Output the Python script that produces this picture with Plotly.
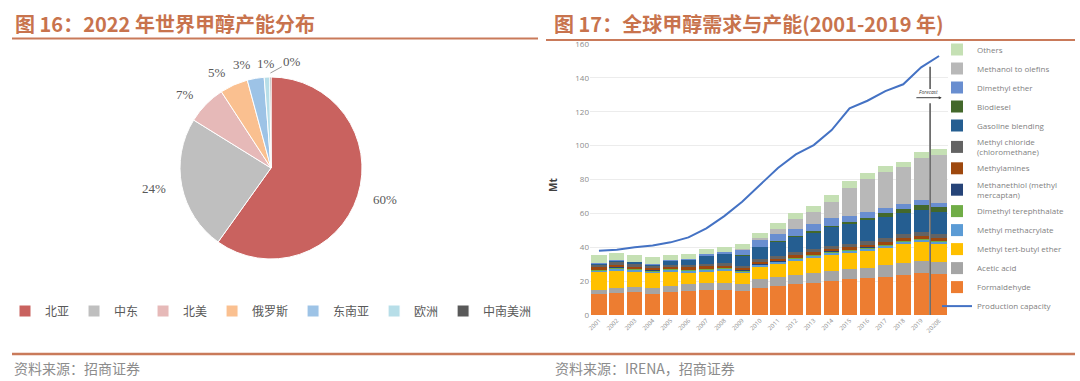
import math
import plotly.graph_objects as go

# ---------------- Left: pie data ----------------
regions = ["北亚", "中东", "北美", "俄罗斯", "东南亚", "欧洲", "中南美洲"]
shares = [60, 24, 7, 5, 3, 1, 0.2]
region_colors = ["#C9625F", "#BFBFBF", "#E6B9B8", "#FAC090", "#9DC3E6", "#B7DEE8", "#595959"]

# ---------------- Right: stacked bars + line ----------------
years = ["2001", "2002", "2003", "2004", "2005", "2006", "2007", "2008", "2009", "2010",
         "2011", "2012", "2013", "2014", "2015", "2016", "2017", "2018", "2019", "2020E"]
capacity = [38.0, 38.5, 40.0, 41.1, 42.9, 45.8, 51.2, 58.4, 66.9, 76.7,
            86.8, 94.8, 100.3, 109.2, 122.0, 126.5, 132.2, 136.2, 146.2, 152.9]
formaldehyde = [12.3, 13.2, 13.8, 12.4, 13.4, 14.4, 14.8, 14.8, 14.0, 16.1,
                17.1, 18.3, 19.1, 20.3, 21.1, 21.7, 22.2, 23.6, 24.6, 24.0]
acetic_acid = [2.6, 2.9, 2.9, 3.7, 3.7, 3.7, 3.9, 4.3, 4.1, 5.0,
               5.3, 5.1, 5.5, 5.9, 5.9, 6.1, 7.3, 7.1, 7.3, 7.1]
mtbe = [10.2, 10.1, 8.9, 8.5, 8.5, 6.9, 6.9, 6.9, 6.5, 7.0,
        7.5, 8.5, 8.9, 9.2, 9.4, 10.0, 9.9, 11.0, 11.0, 10.6]
mma = [1.0, 1.2, 1.1, 1.0, 1.0, 1.1, 1.1, 1.1, 1.0, 1.2,
       1.2, 1.3, 1.3, 1.4, 1.4, 1.4, 1.4, 1.5, 1.5, 1.5]
dmt = [0.4] * 20
methanethiol = [0.3] * 20
methylamines = [1.3, 1.3, 1.2, 1.2, 1.2, 1.3, 1.4, 1.4, 1.3, 1.4,
                1.5, 1.5, 1.5, 1.6, 1.6, 1.7, 1.8, 1.8, 1.8, 1.8]
methyl_chloride = [1.5, 1.6, 1.5, 1.3, 1.3, 1.4, 1.4, 1.5, 1.3, 1.5,
                   1.6, 1.6, 1.7, 1.8, 1.8, 1.9, 2.0, 2.0, 2.1, 2.1]
gasoline = [0.6, 1.0, 1.0, 0.9, 2.0, 3.0, 4.6, 5.2, 6.0, 7.0,
            8.0, 9.0, 10.0, 11.0, 12.0, 12.3, 12.5, 12.5, 13.0, 13.0]
biodiesel = [0.0, 0.0, 0.0, 0.0, 0.0, 0.0, 0.2, 0.3, 0.3, 0.4,
             0.5, 0.6, 0.8, 0.9, 1.2, 1.5, 2.2, 2.5, 2.9, 2.8]
dme = [0.3, 0.5, 0.4, 0.3, 0.4, 0.5, 0.8, 1.2, 3.0, 4.0,
       4.2, 4.4, 4.0, 4.4, 3.6, 3.5, 3.3, 3.0, 2.8, 2.8]
mto = [0.0, 0.0, 0.0, 0.0, 0.0, 0.0, 0.0, 0.0, 0.5, 1.0,
       3.0, 5.5, 7.4, 9.5, 16.4, 19.5, 21.2, 21.6, 25.2, 28.3]
others = [4.9, 4.3, 3.7, 4.0, 3.2, 3.0, 3.0, 3.0, 3.0, 3.3,
          3.5, 3.5, 3.5, 4.0, 3.9, 3.5, 3.3, 3.3, 3.5, 3.3]

series_names = ["Formaldehyde", "Acetic acid", "Methyl tert-butyl ether", "Methyl methacrylate",
                "Dimethyl terephthalate", "Methanethiol (methyl<br>mercaptan)", "Methylamines",
                "Methyl chloride<br>(chloromethane)", "Gasoline blending", "Biodiesel",
                "Dimethyl ether", "Methanol to olefins", "Others"]
series_values = [formaldehyde, acetic_acid, mtbe, mma, dmt, methanethiol, methylamines,
                 methyl_chloride, gasoline, biodiesel, dme, mto, others]
series_colors = ["#ED7D31", "#A5A5A5", "#FFC000", "#5B9BD5", "#70AD47", "#264478", "#9E480E",
                 "#636363", "#255E91", "#43682B", "#698ED0", "#B8B8B8", "#C5E0B4"]

W, H = 1080, 381
def px(x):
    return x / W
def py(y):
    return 1 - y / H

# pie geometry (pixels)
PIE_CX, PIE_CY, PIE_R = 271, 168, 91

fig = go.Figure()

fig.add_trace(go.Pie(
    labels=regions, values=shares, sort=False, direction="clockwise", rotation=0,
    marker=dict(colors=region_colors, line=dict(color="white", width=1)),
    textinfo="none",
    domain=dict(x=[px(PIE_CX - PIE_R), px(PIE_CX + PIE_R)],
                y=[py(PIE_CY + PIE_R), py(PIE_CY - PIE_R)]),
    legend="legend", showlegend=True,
))

fig.add_trace(go.Scatter(
    x=years, y=capacity, name="Production capacity", mode="lines",
    line=dict(color="#4472C4", width=2), xaxis="x", yaxis="y", legend="legend2",
))
for name, vals, col in zip(series_names, series_values, series_colors):
    fig.add_trace(go.Bar(
        x=years, y=vals, name=name, marker=dict(color=col, line=dict(width=0)),
        xaxis="x", yaxis="y", legend="legend2",
    ))

title_color = "#C8734D"
line_color = "#C97A5A"
shapes = [
    dict(type="line", xref="paper", yref="paper", x0=px(12), x1=px(538), y0=py(38.5), y1=py(38.5),
         line=dict(color=line_color, width=2)),
    dict(type="line", xref="paper", yref="paper", x0=px(546), x1=px(1075), y0=py(40), y1=py(40),
         line=dict(color=line_color, width=2)),
    dict(type="line", xref="paper", yref="paper", x0=px(12), x1=px(1075), y0=py(354), y1=py(354),
         line=dict(color=line_color, width=2.5)),
    dict(type="line", xref="x", yref="y", x0=18.5, x1=18.5, y0=0, y1=125,
         line=dict(color="#6E6E6E", width=1.8)),
    dict(type="line", xref="x", yref="y", x0=18.5, x1=18.5, y0=133.5, y1=146.5,
         line=dict(color="#6E6E6E", width=1.8)),
]

annotations = [
    dict(text="<b>图 16：2022 年世界甲醇产能分布</b>", xref="paper", yref="paper",
         x=px(13), y=py(23), xanchor="left", yanchor="middle", showarrow=False,
         font=dict(family="Noto Sans CJK SC", size=20, color=title_color)),
    dict(text="<b>图 17：全球甲醇需求与产能(2001-2019 年)</b>", xref="paper", yref="paper",
         x=px(552), y=py(23), xanchor="left", yanchor="middle", showarrow=False,
         font=dict(family="Noto Sans CJK SC", size=20, color=title_color)),
    dict(text="资料来源：招商证券", xref="paper", yref="paper",
         x=px(12), y=py(368), xanchor="left", yanchor="middle", showarrow=False,
         font=dict(family="Noto Sans CJK SC", size=14, color="#8C8C8C")),
    dict(text="资料来源：IRENA，招商证券", xref="paper", yref="paper",
         x=px(553), y=py(368), xanchor="left", yanchor="middle", showarrow=False,
         font=dict(family="Noto Sans CJK SC", size=14, color="#8C8C8C")),
    dict(text="<b>Mt</b>", xref="paper", yref="paper", x=px(553), y=py(185),
         textangle=-90, showarrow=False, xanchor="center", yanchor="middle",
         font=dict(family="Open Sans", size=10, color="#404040")),
    dict(text="<i>Forecast</i>", xref="x", yref="y", x=18.4, y=131.5, showarrow=False,
         font=dict(family="Open Sans", size=5, color="#404040")),
    dict(text="", xref="x", yref="y", x=19.15, y=128.3, ax=17.65, ay=128.3,
         axref="x", ayref="y", showarrow=True, arrowhead=2, arrowsize=0.6,
         arrowwidth=1, arrowcolor="#404040"),
]

# pie percentage labels, positioned from the slice angles
total = sum(shares)
cum = 0.0
label_font = dict(family="Liberation Serif", size=13, color="#595959")
for i, v in enumerate(shares):
    mid = (cum + v / 2) / total * 2 * math.pi  # clockwise from 12 o'clock
    cum += v
    pct = f"{round(100 * v / total)}%"
    s, c = math.sin(mid), math.cos(mid)
    if i == len(shares) - 1:
        ex = PIE_CX + PIE_R * s
        ey = PIE_CY - PIE_R * c
        annotations.append(dict(text=pct, xref="paper", yref="paper", x=px(ex), y=py(ey - 4),
                                ax=22, ay=-12, showarrow=True, arrowhead=0, arrowwidth=0.8,
                                arrowcolor="#7F7F7F", font=label_font, standoff=0))
    else:
        rl = PIE_R * 1.15
        lx = PIE_CX + rl * s
        ly = PIE_CY - rl * c
        anchor = "right" if s < -0.1 else ("left" if s > 0.1 else "center")
        annotations.append(dict(text=pct, xref="paper", yref="paper", x=px(lx), y=py(ly),
                                showarrow=False, xanchor=anchor, yanchor="middle",
                                font=label_font))

fig.update_layout(
    width=W, height=H, margin=dict(l=0, r=0, t=0, b=0, autoexpand=False),
    paper_bgcolor="white", plot_bgcolor="white",
    barmode="stack", bargap=0.15, hovermode=False,
    font=dict(family="Open Sans", color="#808080"),
    xaxis=dict(domain=[px(590), px(948)], type="category", tickangle=-45,
               tickfont=dict(size=6, color="#8C8C8C"), showgrid=False, showline=False,
               ticks="", zeroline=False, range=[-0.5, 19.5]),
    yaxis=dict(domain=[py(315), py(44)], range=[0, 160], dtick=20, showgrid=True,
               gridcolor="#ECECEC", gridwidth=1, zeroline=False, showline=False,
               tickfont=dict(size=8, color="#8C8C8C"), ticks=""),
    legend=dict(orientation="h", x=px(271), xanchor="center", y=py(311), yanchor="middle",
                font=dict(family="Noto Sans CJK SC", size=12, color="#595959"),
                bgcolor="rgba(0,0,0,0)", itemwidth=30),
    legend2=dict(orientation="v", x=px(937), xanchor="left", y=py(35), yanchor="top",
                 font=dict(family="Open Sans", size=8, color="#7F7F7F"),
                 bgcolor="rgba(0,0,0,0)", itemwidth=30, traceorder="reversed"),
    shapes=shapes, annotations=annotations,
)

fig.write_html(
    "out.html",
    config={"displayModeBar": False, "staticPlot": True},
    post_script="document.body.style.margin='0px';document.body.style.overflow='hidden';",
)
